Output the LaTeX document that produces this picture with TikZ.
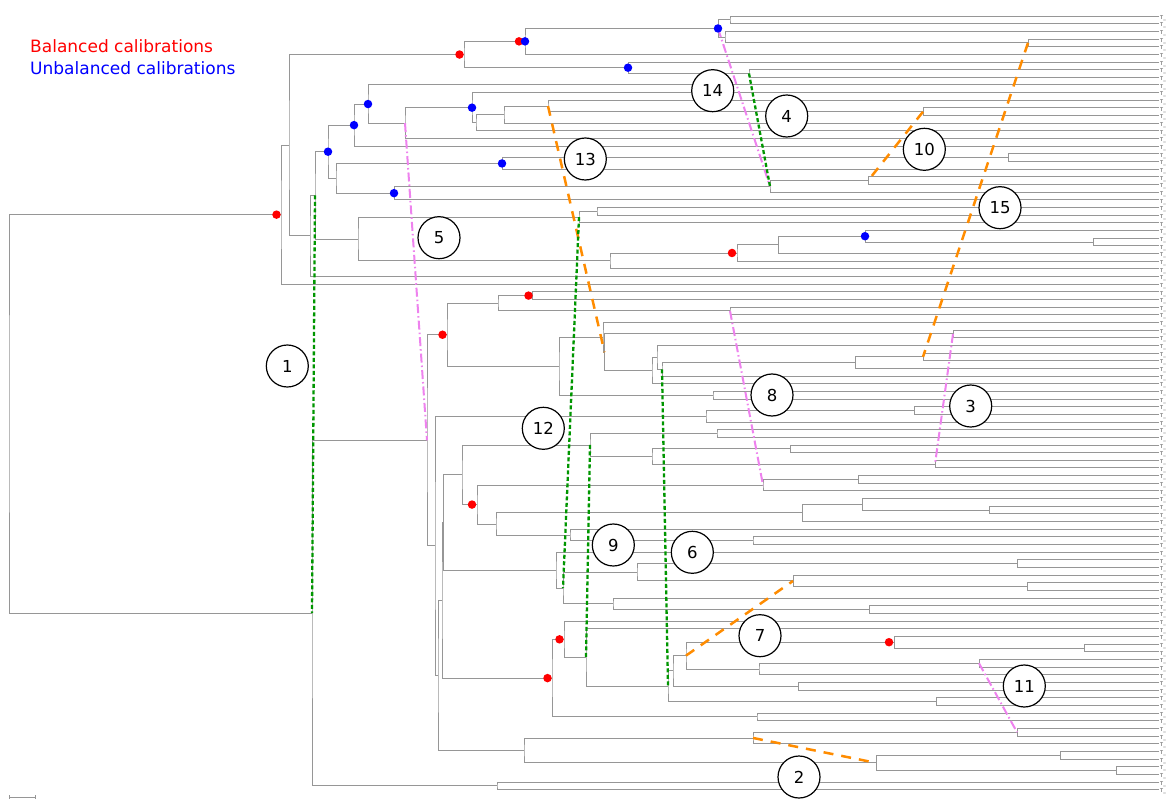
\documentclass[tikz,border=0pt]{standalone}
\usepackage{fontspec}
\setmainfont{DejaVu Sans}
\usetikzlibrary{calc}
\definecolor{treegray}{RGB}{150,150,150}
\definecolor{dgreen}{RGB}{0,150,0}
\definecolor{dviolet}{RGB}{238,130,238}
\definecolor{dorange}{RGB}{255,140,0}
\tikzset{
 br/.style={draw=treegray, line width=0.9pt},
 gdot/.style={draw=dgreen, line width=2.3pt, dash pattern=on 4pt off 2.5pt},
 pdash/.style={draw=dviolet, line width=2pt, dash pattern=on 9pt off 3pt on 1.5pt off 3pt},
 odash/.style={draw=dorange, line width=2.5pt, dash pattern=on 10pt off 8pt},
 lab/.style={circle, draw=black, line width=1.2pt, fill=white, minimum size=42pt, inner sep=0pt, font=\fontsize{16.5}{17}\selectfont},
 rdot/.style={circle, fill=red, inner sep=0pt, minimum size=8.5pt},
 bdot/.style={circle, fill=blue, inner sep=0pt, minimum size=8.5pt},
 leaflab/.style={anchor=north west, inner sep=0pt, font=\fontsize{5}{5}\selectfont, text=black!75},
 legend/.style={anchor=base west, inner sep=0pt, font=\fontsize{17}{17}\selectfont},
}
\newcommand\TN[4]{%
  \path let \p1=(#3), \p2=(#4) in (#2pt,{0.5*(\y1+\y2)}) coordinate (#1);
  \draw[br] (#3) -| (#1) |- (#4);}
\begin{document}
\begin{tikzpicture}[x=1pt,y=-1pt]
\fill[white] (0,0) rectangle (1167,802);
\useasboundingbox (0,0) rectangle (1167,802);
% leaves
\foreach \k in {0,...,101}{
  \coordinate (L\k) at (1159,{16+7.66*\k});
  \node[leaflab] (T\k) at (1160,{16+7.66*\k-0.6}) {T\_};
}
% upper clade
\TN{a730}{730}{L0}{L1}
\TN{a1028}{1028}{L3}{L4}
\TN{a725}{725}{L2}{a1028}
\TN{a718}{718}{a730}{a725}
\TN{a525}{525}{a718}{L5}
\TN{a749}{749}{L7}{L8}
\TN{a628}{628}{L6}{a749}
\TN{a464}{464}{a525}{a628}
\TN{a923}{923}{L12}{L13}
\TN{a548}{548}{L11}{a923}
\TN{a504}{504}{a548}{L14}
\TN{a476}{476}{a504}{L15}
\TN{a472}{472}{L10}{a476}
\TN{a405}{405}{a472}{L16}
\TN{a368}{368}{L9}{a405}
\TN{a354}{354}{a368}{L17}
\TN{a1008}{1008}{L18}{L19}
\TN{a502}{502}{a1008}{L20}
\TN{a868}{868}{L21}{L22}
\TN{a770}{770}{a868}{L23}
\TN{a394}{394}{a770}{L24}
\TN{a336}{336}{a502}{a394}
\TN{a328}{328}{a354}{a336}
\TN{a597}{597}{L25}{L26}
\TN{a579}{579}{a597}{L27}
\TN{a1093}{1093}{L29}{L30}
\TN{a865}{865}{L28}{a1093}
\TN{a778}{778}{a865}{L31}
\TN{a737}{737}{a778}{L32}
\TN{a610}{610}{a737}{L33}
\TN{a358}{358}{a579}{a610}
\TN{a315}{315}{a328}{a358}
\TN{a310}{310}{a315}{L34}
\TN{a289}{289}{a464}{a310}
\TN{a281}{281}{a289}{L35}
% lower clade
\TN{b533}{532.5}{L36}{L37}
\TN{b730}{730}{L38}{L39}
\TN{b498}{498}{b533}{b730}
\TN{b953}{953}{L41}{L42}
\TN{b923}{923}{L44}{L45}
\TN{b855}{855}{b923}{L46}
\TN{b662}{662}{b855}{L47}
\TN{b657}{657}{L43}{b662}
\TN{c652}{652}{b657}{L48}
\TN{bQ}{604.5}{b953}{c652}
\TN{bP}{603}{L40}{bQ}
\TN{b713}{713}{L49}{L50}
\TN{b559}{559}{bP}{b713}
\TN{b447}{447}{b498}{b559}
\TN{b914}{914}{L51}{L52}
\TN{b706}{706}{b914}{L53}
\TN{b717}{717}{L54}{L55}
\TN{b790}{790}{L56}{L57}
\TN{b935}{935}{L58}{L59}
\TN{d652}{652}{b790}{b935}
\TN{b590}{590}{b717}{d652}
\TN{b858}{858}{L60}{L61}
\TN{b763}{763}{b858}{L62}
\TN{b989}{989}{L64}{L65}
\TN{b862}{862}{L63}{b989}
\TN{b802}{802}{b862}{L66}
\TN{b753}{753}{L68}{L69}
\TN{b570}{570}{L67}{b753}
\TN{b496}{496}{b802}{b570}
\TN{b477}{477}{b763}{b496}
\TN{b462}{462}{b590}{b477}
\TN{b1017}{1017}{L71}{L72}
\TN{b1027}{1027}{L74}{L75}
\TN{b793}{793}{L73}{b1027}
\TN{b637}{637}{b1017}{b793}
\TN{b869}{869}{L77}{L78}
\TN{b613}{613}{L76}{b869}
\TN{b563}{563}{b637}{b613}
\TN{b556}{556}{L70}{b563}
\TN{bN1}{443.5}{b462}{b556}
\TN{b1084}{1084}{L82}{L83}
\TN{b894}{894}{L81}{b1084}
\TN{b979}{979}{L84}{L85}
\TN{b759}{759}{b979}{L86}
\TN{b686}{686}{b894}{b759}
\TN{b798}{798}{L87}{L88}
\TN{b673}{673}{b686}{b798}
\TN{b936}{936}{L89}{L90}
\TN{b668}{668}{b673}{b936}
\TN{b586}{586}{L80}{b668}
\TN{b564}{564}{L79}{b586}
\TN{b757}{757}{L91}{L92}
\TN{b552}{552}{b564}{b757}
\TN{bN2}{442}{bN1}{b552}
\TN{b1060}{1060}{L96}{L97}
\TN{b1116}{1116}{L98}{L99}
\TN{b876}{876}{b1060}{b1116}
\TN{e1017}{1017}{L93}{L94}
\TN{e753}{753}{e1017}{L95}
\TN{b524}{524}{e753}{b876}
\TN{b438}{438}{bN2}{b524}
\TN{b435}{435}{b706}{b438}
\TN{b427}{427}{b447}{b435}
\TN{b497}{497}{L100}{L101}
\TN{b312}{312}{b427}{b497}
\TN{root}{9}{a281}{b312}
% scale bar
\coordinate (sb1) at (9,797);
\coordinate (sb2) at (35,797);
\draw[br] (sb1) -- (sb2);
\draw[br] ($(sb1)+(0,-2)$) -- ($(sb1)+(0,2)$);
\draw[br] ($(sb2)+(0,-2)$) -- ($(sb2)+(0,2)$);
% calibration shift lines
\draw[gdot] (a315) -- (b312);
\draw[pdash] (a718) -- (a770);
\draw[gdot] (a749) -- (a770);
\draw[odash] (a548) -- (bQ);
\draw[odash] (a923) -- (a868);
\draw[odash] (a1028) -- (b923);
\draw[pdash] (a405) -- (b427);
\draw[gdot] (a579) -- (b563);
\draw[pdash] (b730) -- (b763);
\draw[pdash] (b953) -- (b935);
\draw[gdot] (b590) -- (b586);
\draw[gdot] (b662) -- (b668);
\draw[odash] (b686) -- (b793);
\draw[pdash] (b979) -- (e1017);
\draw[odash] (e753) -- (b876);
% calibration dots
\foreach \n/\d in {a281/4.5,a464/4.5,a525/6,b533/4,b447/4.5,b477/5,b564/4.5,b552/4.5,a737/5,b894/5}
  \node[rdot] (r\n) at ($(\n)+(-\d,0)$) {};
\foreach \n in {a718,a525,a628,a368,a354,a328,a472,a502,a394,a865}
  \node[bdot] (u\n) at (\n) {};
% numbered circles
\node[lab] (c1) at (287.3,366) {1};
\node[lab] (c2) at (799,777) {2};
\node[lab] (c3) at (970.7,406) {3};
\node[lab] (c4) at (786.7,116) {4};
\node[lab] (c5) at (439,237.7) {5};
\node[lab] (c6) at (692.3,552.3) {6};
\node[lab] (c7) at (760,635.7) {7};
\node[lab] (c8) at (772,395) {8};
\node[lab] (c9) at (613.3,545) {9};
\node[lab] (c10) at (924.3,149.3) {10};
\node[lab] (c11) at (1024.3,686) {11};
\node[lab] (c12) at (543.3,428.3) {12};
\node[lab] (c13) at (585.3,159) {13};
\node[lab] (c14) at (712.7,90.7) {14};
\node[lab] (c15) at (1000,207.7) {15};
% legend
\node[legend, text=red] (leg1) at (30,53) {Balanced calibrations};
\node[legend, text=blue] (leg2) at (30,75) {Unbalanced calibrations};
\end{tikzpicture}
\end{document}
